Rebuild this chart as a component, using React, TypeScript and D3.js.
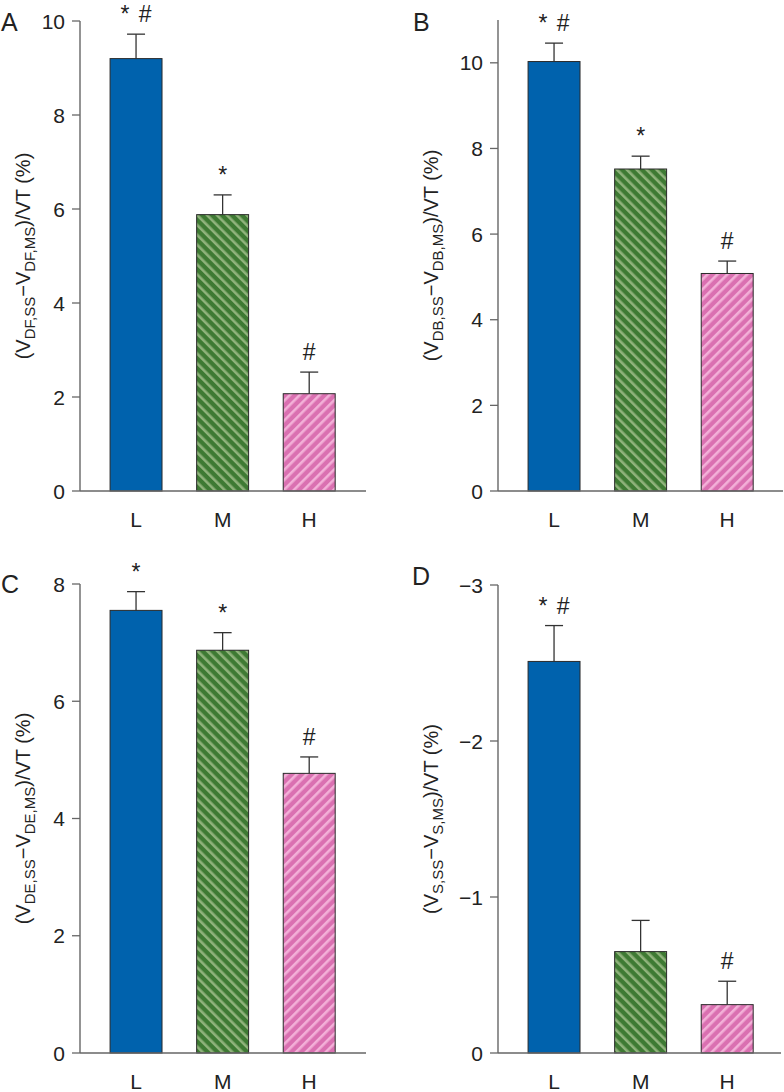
import React from "react";
import * as d3 from "d3";

const categories = ["L", "M", "H"];

const valuesA = [9.2, 5.88, 2.07];
const errorsA = [0.52, 0.42, 0.46];
const marksA = ["* #", "*", "#"];
const ticksA = [0, 2, 4, 6, 8, 10];

const valuesB = [10.03, 7.52, 5.08];
const errorsB = [0.43, 0.3, 0.29];
const marksB = ["* #", "*", "#"];
const ticksB = [0, 2, 4, 6, 8, 10];

const valuesC = [7.55, 6.87, 4.77];
const errorsC = [0.32, 0.3, 0.28];
const marksC = ["*", "*", "#"];
const ticksC = [0, 2, 4, 6, 8];

const valuesD = [-2.51, -0.65, -0.31];
const errorsD = [0.23, 0.2, 0.15];
const marksD = ["* #", "", "#"];
const ticksD = [0, -1, -2, -3];

const FONT = "'Liberation Sans', Arial, Helvetica, sans-serif";
const fills = ["#0062ad", "url(#hatchGreen)", "url(#hatchPink)"];

type PanelDef = {
  letter: string;
  sub: string;
  values: number[];
  errors: number[];
  marks: string[];
  ticks: number[];
  domain: [number, number];
  axisX: number;
  y0: number;
  yTop: number;
  xEnd: number;
  letterX: number;
  letterY: number;
  labelX: number;
};

const panels: PanelDef[] = [
  { letter: "A", sub: "DF", values: valuesA, errors: errorsA, marks: marksA, ticks: ticksA, domain: [0, 10], axisX: 80, y0: 491, yTop: 21, xEnd: 366, letterX: 1, letterY: 31, labelX: 30 },
  { letter: "B", sub: "DB", values: valuesB, errors: errorsB, marks: marksB, ticks: ticksB, domain: [0, 11], axisX: 498, y0: 491, yTop: 20, xEnd: 783, letterX: 413, letterY: 31, labelX: 438 },
  { letter: "C", sub: "DE", values: valuesC, errors: errorsC, marks: marksC, ticks: ticksC, domain: [0, 8], axisX: 80, y0: 1053, yTop: 584, xEnd: 366, letterX: 1, letterY: 593, labelX: 30 },
  { letter: "D", sub: "S", values: valuesD, errors: errorsD, marks: marksD, ticks: ticksD, domain: [0, -3], axisX: 498, y0: 1053, yTop: 585, xEnd: 781, letterX: 412, letterY: 585, labelX: 438 },
];

function fmt(v: number) {
  return v < 0 ? "\u2212" + Math.abs(v) : String(v);
}

function Panel({ p }: { p: PanelDef }) {
  const y = d3.scaleLinear().domain(p.domain).range([p.y0, p.yTop]);
  const x = d3
    .scaleBand<string>()
    .domain(categories)
    .range([p.axisX + 12.75, p.axisX + 272.5])
    .paddingInner(0.4)
    .paddingOuter(0.2);
  const bw = x.bandwidth();
  const midY = (p.y0 + p.yTop) / 2;
  const subShift = 5;
  return (
    <g>
      <text x={p.letterX} y={p.letterY} fontSize={25} fontFamily={FONT} fill="#222">
        {p.letter}
      </text>
      <text
        transform={`translate(${p.labelX},${midY}) rotate(-90)`}
        textAnchor="middle"
        fontSize={20}
        fontFamily={FONT}
        fill="#222"
      >
        <tspan>(V</tspan>
        <tspan fontSize={15} dy={subShift}>{`${p.sub},SS`}</tspan>
        <tspan dy={-subShift}>{"\u2212V"}</tspan>
        <tspan fontSize={15} dy={subShift}>{`${p.sub},MS`}</tspan>
        <tspan dy={-subShift}>{")/VT (%)"}</tspan>
      </text>
      {categories.map((c, i) => {
        const v = p.values[i];
        const top = y(v);
        const errEnd = y(v + Math.sign(v) * p.errors[i]);
        const cx = (x(c) as number) + bw / 2;
        return (
          <g key={c}>
            <line x1={cx} x2={cx} y1={top} y2={errEnd} stroke="#333" strokeWidth={1.3} />
            <line x1={cx - 9} x2={cx + 9} y1={errEnd} y2={errEnd} stroke="#333" strokeWidth={1.3} />
            <rect
              x={x(c)}
              y={top}
              width={bw}
              height={p.y0 - top}
              fill={fills[i]}
              stroke="#2a2a2a"
              strokeWidth={1}
            />
            {p.marks[i] === "* #" ? (
              <g fontFamily={FONT} fontSize={23} fill="#222" textAnchor="middle">
                <text x={cx - 11} y={errEnd - 12}>*</text>
                <text x={cx + 9} y={errEnd - 12}>#</text>
              </g>
            ) : p.marks[i] ? (
              <text x={cx} y={errEnd - 12} fontFamily={FONT} fontSize={23} fill="#222" textAnchor="middle">
                {p.marks[i]}
              </text>
            ) : null}
            <text x={cx} y={p.y0 + 36} fontFamily={FONT} fontSize={21} fill="#222" textAnchor="middle">
              {c}
            </text>
          </g>
        );
      })}
      <line x1={p.axisX} x2={p.axisX} y1={p.yTop} y2={p.y0} stroke="#666" strokeWidth={1.4} />
      <line x1={p.axisX} x2={p.xEnd} y1={p.y0} y2={p.y0} stroke="#666" strokeWidth={1.4} />
      {p.ticks.map((t) => (
        <g key={t}>
          <line x1={p.axisX - 8} x2={p.axisX} y1={y(t)} y2={y(t)} stroke="#666" strokeWidth={1.3} />
          <text
            x={p.axisX - 15}
            y={y(t)}
            dy="0.36em"
            textAnchor="end"
            fontFamily={FONT}
            fontSize={21}
            fill="#222"
          >
            {fmt(t)}
          </text>
        </g>
      ))}
    </g>
  );
}

export default function App() {
  return (
    <svg
      width={784}
      height={1092}
      style={{ position: "absolute", left: 0, top: 0, background: "#fff" }}
    >
      <defs>
        <pattern id="hatchGreen" width={7} height={7} patternUnits="userSpaceOnUse" patternTransform="rotate(-45)">
          <rect width={7} height={7} fill="#3e7a33" />
          <rect width={2.6} height={7} fill="#90b37c" />
        </pattern>
        <pattern id="hatchPink" width={7} height={7} patternUnits="userSpaceOnUse" patternTransform="rotate(45)">
          <rect width={7} height={7} fill="#da70b1" />
          <rect width={2.6} height={7} fill="#f3b0d8" />
        </pattern>
      </defs>
      <rect width={784} height={1092} fill="#fff" />
      {panels.map((p) => (
        <Panel key={p.letter} p={p} />
      ))}
    </svg>
  );
}
